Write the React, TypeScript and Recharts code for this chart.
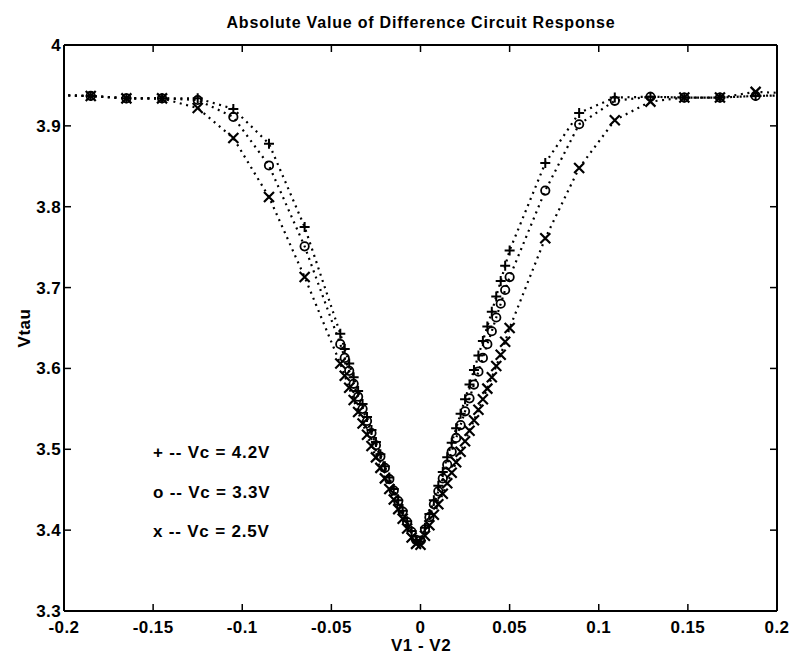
import { LineChart, Line, XAxis, YAxis } from "recharts"

// V1 - V2 sweep (coarse outside, fine around zero)
const vdiff = [
  -0.205, -0.185, -0.165, -0.145, -0.125, -0.105, -0.085, -0.065,
  -0.045, -0.0425, -0.04, -0.0375, -0.035, -0.0325, -0.03, -0.0275, -0.025, -0.0225,
  -0.02, -0.0175, -0.015, -0.0125, -0.01, -0.0075, -0.005, -0.0025, 0,
  0.0025, 0.005, 0.0075, 0.01, 0.0125, 0.015, 0.0175, 0.02, 0.0225, 0.025,
  0.0275, 0.03, 0.0325, 0.035, 0.0375, 0.04, 0.0425, 0.045, 0.0475, 0.05,
  0.07, 0.089, 0.109, 0.129, 0.148, 0.168, 0.188, 0.209,
]

const vtau42 = [
  3.938, 3.937, 3.934, 3.934, 3.934, 3.921, 3.878, 3.775,
  3.643, 3.624, 3.606, 3.589, 3.572, 3.556, 3.54, 3.524, 3.509, 3.494,
  3.479, 3.465, 3.451, 3.437, 3.424, 3.411, 3.399, 3.388, 3.386,
  3.403, 3.42, 3.437, 3.455, 3.472, 3.49, 3.508, 3.526, 3.544, 3.562,
  3.58, 3.598, 3.616, 3.634, 3.652, 3.67, 3.689, 3.708, 3.727, 3.746,
  3.854, 3.916, 3.935, 3.936, 3.935, 3.935, 3.937, 3.938,
]

const vtau33 = [
  3.938, 3.937, 3.934, 3.934, 3.932, 3.911, 3.851, 3.751,
  3.63, 3.613, 3.597, 3.581, 3.565, 3.55, 3.535, 3.52, 3.505, 3.491,
  3.477, 3.463, 3.449, 3.436, 3.423, 3.41, 3.398, 3.388, 3.387,
  3.401, 3.416, 3.432, 3.448, 3.464, 3.481, 3.497, 3.514, 3.53, 3.547,
  3.563, 3.58, 3.596, 3.613, 3.63, 3.646, 3.663, 3.68, 3.697, 3.713,
  3.82, 3.902, 3.931, 3.936, 3.935, 3.935, 3.937, 3.938,
]

const vtau25 = [
  3.938, 3.937, 3.934, 3.934, 3.922, 3.885, 3.812, 3.713,
  3.606, 3.591, 3.576, 3.561, 3.546, 3.532, 3.518, 3.504, 3.49, 3.477,
  3.464, 3.451, 3.438, 3.426, 3.414, 3.402, 3.391, 3.383, 3.382,
  3.393, 3.406, 3.419, 3.432, 3.445, 3.458, 3.471, 3.484, 3.497, 3.51,
  3.523, 3.536, 3.549, 3.562, 3.575, 3.589, 3.603, 3.617, 3.633, 3.65,
  3.761, 3.848, 3.907, 3.93, 3.935, 3.935, 3.942, 3.94,
]

const xTicks = [-0.2, -0.15, -0.1, -0.05, 0, 0.05, 0.1, 0.15, 0.2]
const yTicks = [3.3, 3.4, 3.5, 3.6, 3.7, 3.8, 3.9, 4]
const legendLines = ["+ -- Vc = 4.2V", "o -- Vc = 3.3V", "x -- Vc = 2.5V"]

const rows = vdiff.map((v, i) => ({ v, a: vtau42[i], b: vtau33[i], c: vtau25[i] }))

const font = "'Liberation Sans', Arial, Helvetica, sans-serif"
const tickFont = { fontFamily: font, fontWeight: 700, fontSize: 17, fill: "#000", letterSpacing: 0.4 }

const BottomTick = (p: any) => (
  <g>
    <line x1={p.x} y1={p.y} x2={p.x} y2={p.y - 7} stroke="#000" strokeWidth={1.5} />
    <text x={p.x} y={p.y + 22} textAnchor="middle" style={tickFont}>{String(p.payload.value)}</text>
  </g>
)
const TopTick = (p: any) => (
  <line x1={p.x} y1={p.y} x2={p.x} y2={p.y + 7} stroke="#000" strokeWidth={1.5} />
)
const LeftTick = (p: any) => (
  <g>
    <line x1={p.x} y1={p.y} x2={p.x + 7} y2={p.y} stroke="#000" strokeWidth={1.5} />
    <text x={p.x - 3} y={p.y + 6} textAnchor="end" style={tickFont}>{String(p.payload.value)}</text>
  </g>
)
const RightTick = (p: any) => (
  <line x1={p.x} y1={p.y} x2={p.x - 7} y2={p.y} stroke="#000" strokeWidth={1.5} />
)

const plusDot = (p: any) => (
  <path key={`p${p.index}`} d={`M${p.cx - 5},${p.cy}H${p.cx + 5}M${p.cx},${p.cy - 5}V${p.cy + 5}`}
    stroke="#000" strokeWidth={2} fill="none" />
)
const circleDot = (p: any) => (
  <circle key={`o${p.index}`} cx={p.cx} cy={p.cy} r={4.2} stroke="#000" strokeWidth={1.8} fill="none" />
)
const crossDot = (p: any) => (
  <path key={`x${p.index}`} d={`M${p.cx - 5},${p.cy - 5}L${p.cx + 5},${p.cy + 5}M${p.cx - 5},${p.cy + 5}L${p.cx + 5},${p.cy - 5}`}
    stroke="#000" strokeWidth={2.2} fill="none" />
)

const lineProps = {
  type: "linear" as const,
  stroke: "#000",
  strokeWidth: 2.2,
  strokeDasharray: "2 4.6",
  isAnimationActive: false,
  activeDot: false,
}

export default function App() {
  return (
    <div style={{ position: "absolute", left: 0, top: 0, width: 794, height: 657, background: "#fff" }}>
      <LineChart width={794} height={657} data={rows} margin={{ top: 35, right: 7, bottom: 16, left: 14 }}>
        <XAxis dataKey="v" type="number" domain={[-0.2, 0.2]} allowDataOverflow ticks={xTicks} interval={0}
          height={30} tickLine={false} tickSize={0} tickMargin={0} tick={BottomTick}
          axisLine={{ stroke: "#000", strokeWidth: 2 }} />
        <XAxis xAxisId="top" orientation="top" dataKey="v" type="number" domain={[-0.2, 0.2]} allowDataOverflow
          ticks={xTicks} interval={0} height={10} tickLine={false} tickSize={0} tickMargin={0} tick={TopTick}
          axisLine={{ stroke: "#000", strokeWidth: 2 }} />
        <YAxis type="number" domain={[3.3, 4]} allowDataOverflow ticks={yTicks} interval={0} width={50}
          tickLine={false} tickSize={0} tickMargin={0} tick={LeftTick}
          axisLine={{ stroke: "#000", strokeWidth: 2 }} />
        <YAxis yAxisId="right" orientation="right" type="number" domain={[3.3, 4]} allowDataOverflow ticks={yTicks}
          interval={0} width={10} tickLine={false} tickSize={0} tickMargin={0} tick={RightTick}
          axisLine={{ stroke: "#000", strokeWidth: 2 }} />
        <Line dataKey="a" {...lineProps} dot={plusDot} />
        <Line dataKey="b" {...lineProps} dot={circleDot} />
        <Line dataKey="c" {...lineProps} dot={crossDot} />
      </LineChart>
      <svg width={794} height={657} style={{ position: "absolute", left: 0, top: 0, pointerEvents: "none" }}>
        <text x={421} y={28} textAnchor="middle"
          style={{ fontFamily: font, fontWeight: 700, fontSize: 16, letterSpacing: 0.8, fill: "#000" }}>
          Absolute Value of Difference Circuit Response
        </text>
        <text x={421} y={651} textAnchor="middle"
          style={{ fontFamily: font, fontWeight: 700, fontSize: 17, letterSpacing: 0.5, fill: "#000" }}>
          V1 - V2
        </text>
        <text x={30} y={328} textAnchor="middle" transform="rotate(-90 30 328)"
          style={{ fontFamily: font, fontWeight: 700, fontSize: 17, letterSpacing: 0.5, fill: "#000" }}>
          Vtau
        </text>
        {legendLines.map((t, i) => (
          <text key={t} x={153} y={458 + i * 39.5}
            style={{ fontFamily: font, fontWeight: 700, fontSize: 17, letterSpacing: 0.8, fill: "#000" }}>
            {t}
          </text>
        ))}
      </svg>
    </div>
  )
}
